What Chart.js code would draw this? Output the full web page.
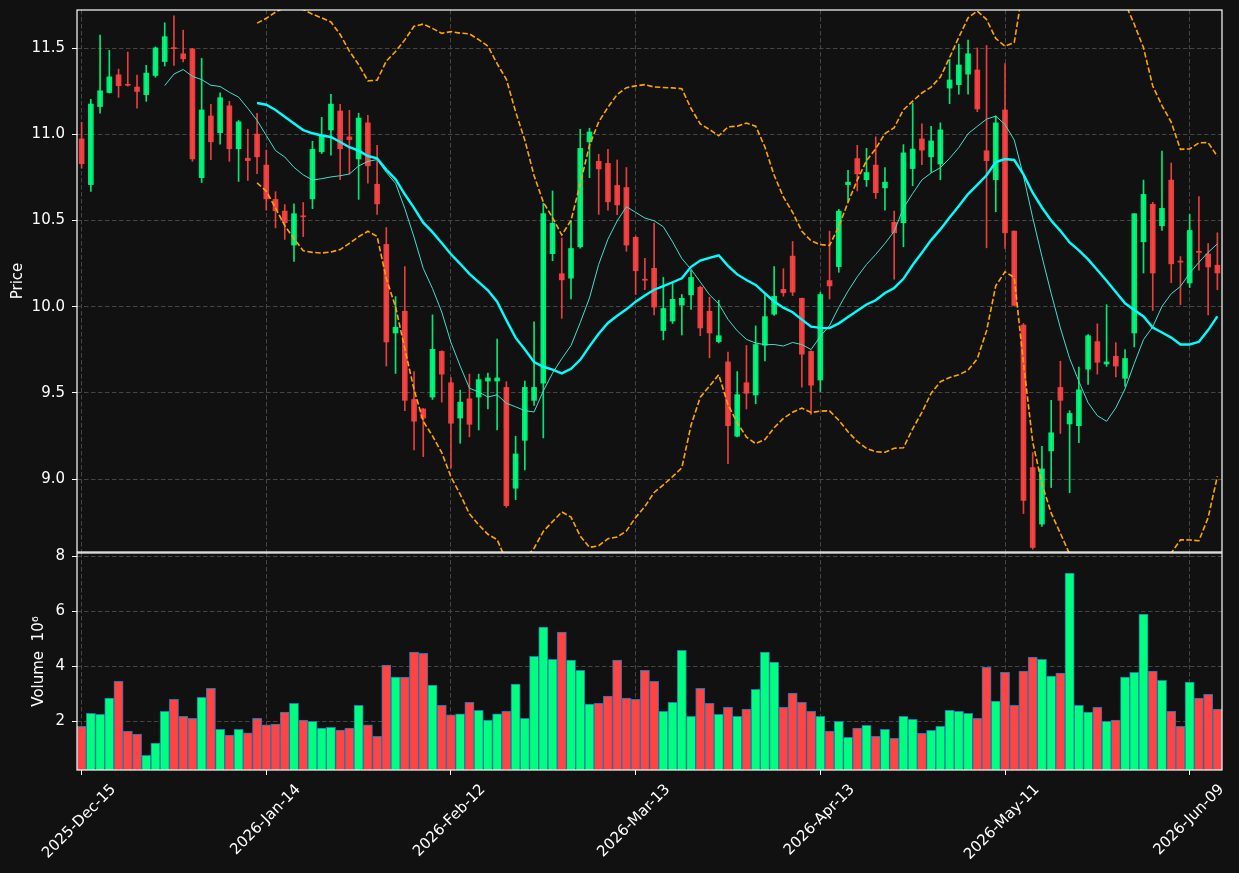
<!DOCTYPE html>
<html>
<head>
<meta charset="utf-8">
<script src="https://cdn.jsdelivr.net/npm/chart.js@4.4.1/dist/chart.umd.min.js"></script>
<style>
body { margin: 0; background: #111111; }
#wrap { position: relative; width: 1239px; height: 873px; }
#pwrap { position: absolute; left: 0; top: 0; width: 1239px; height: 553px; }
#vwrap { position: absolute; left: 0; top: 540px; width: 1239px; height: 333px; }
</style>
</head>
<body>
<div id="wrap">
  <div id="pwrap"><canvas id="price"></canvas></div>
  <div id="vwrap"><canvas id="vol"></canvas></div>
</div>
<script>
// tick labels (one every 20 trading days)
var tickLabels = ['2025-Dec-15', '2026-Jan-14', '2026-Feb-12', '2026-Mar-13', '2026-Apr-13', '2026-May-11', '2026-Jun-09'];
var priceTicks = [9.0, 9.5, 10.0, 10.5, 11.0, 11.5];
var volumeTicks = [2, 4, 6, 8];

// daily OHLC
var open = [10.974, 10.709, 11.162, 11.243, 11.346, 11.290, 11.275, 11.231, 11.342, 11.423,
  11.502, 11.468, 11.496, 10.749, 11.107, 11.010, 11.166, 10.917, 10.862, 11.002,
  10.822, 10.623, 10.555, 10.358, 10.526, 10.626, 10.899, 11.026, 11.136, 10.986,
  10.858, 11.067, 10.711, 10.362, 9.848, 9.974, 9.462, 9.407, 9.476, 9.741,
  9.559, 9.354, 9.466, 9.476, 9.569, 9.569, 9.532, 8.947, 9.225, 9.457,
  9.557, 10.308, 10.192, 10.166, 10.348, 10.957, 10.844, 10.832, 10.704, 10.692,
  10.403, 10.160, 10.223, 9.862, 9.917, 10.010, 10.069, 10.113, 9.974, 9.798,
  9.680, 9.249, 9.559, 9.488, 9.777, 9.957, 10.101, 10.294, 10.049, 9.741,
  9.575, 10.152, 10.233, 10.709, 10.860, 10.737, 10.822, 10.690, 10.490, 10.488,
  10.802, 10.974, 10.870, 10.828, 11.269, 11.289, 11.350, 11.374, 10.905, 10.737,
  11.142, 10.439, 9.893, 9.067, 8.739, 9.164, 9.532, 9.320, 9.310, 9.638,
  9.798, 9.668, 9.713, 9.585, 9.848, 10.377, 10.595, 10.470, 10.735, 10.265,
  10.138, 10.322, 10.306, 10.241];
var high = [11.071, 11.204, 11.577, 11.488, 11.379, 11.478, 11.344, 11.401, 11.508, 11.648,
  11.688, 11.605, 11.500, 11.441, 11.174, 11.241, 11.192, 11.081, 11.030, 11.123,
  10.909, 10.668, 10.593, 10.597, 10.605, 10.960, 11.099, 11.233, 11.174, 11.140,
  11.123, 11.111, 10.937, 10.460, 10.059, 10.233, 9.624, 9.410, 9.953, 9.745,
  9.589, 9.516, 9.609, 9.609, 9.615, 9.812, 9.565, 9.249, 9.569, 9.913,
  10.601, 10.672, 10.399, 10.500, 11.030, 11.036, 10.885, 10.913, 10.852, 10.808,
  10.410, 10.281, 10.486, 10.170, 10.136, 10.071, 10.213, 10.120, 10.055, 10.038,
  9.737, 9.624, 9.775, 9.889, 10.071, 10.233, 10.221, 10.379, 10.050, 9.745,
  10.083, 10.439, 10.565, 10.791, 10.937, 10.919, 10.986, 10.808, 10.555, 10.941,
  11.182, 11.061, 11.047, 11.067, 11.435, 11.524, 11.547, 11.502, 11.516, 11.107,
  11.411, 10.440, 9.903, 9.154, 9.190, 9.457, 9.684, 9.397, 9.650, 9.838,
  9.901, 10.012, 9.792, 9.751, 10.540, 10.735, 10.607, 10.903, 10.834, 10.291,
  10.536, 10.640, 10.366, 10.429];
var low = [10.804, 10.670, 11.123, 11.240, 11.215, 11.280, 11.152, 11.192, 11.332, 11.397,
  11.401, 11.421, 10.844, 10.721, 10.854, 10.943, 10.844, 10.727, 10.733, 10.773,
  10.561, 10.458, 10.391, 10.263, 10.407, 10.569, 10.889, 10.879, 10.737, 10.771,
  10.623, 10.717, 10.536, 9.656, 9.613, 9.397, 9.170, 9.130, 9.462, 9.447,
  9.063, 9.208, 9.245, 9.285, 9.407, 9.285, 8.836, 8.881, 9.053, 9.427,
  9.239, 10.267, 9.933, 10.045, 10.340, 10.749, 10.536, 10.561, 10.534, 10.322,
  10.071, 10.099, 9.953, 9.808, 9.903, 9.836, 9.984, 9.832, 9.704, 9.790,
  9.089, 9.245, 9.407, 9.437, 9.686, 9.950, 10.061, 10.065, 9.534, 9.376,
  9.508, 10.045, 10.200, 10.611, 10.672, 10.698, 10.628, 10.561, 10.160, 10.348,
  10.702, 10.824, 10.779, 10.737, 11.178, 11.233, 11.233, 11.132, 10.342, 10.551,
  10.338, 10.004, 8.800, 8.593, 8.725, 8.951, 9.265, 8.921, 9.211, 9.549,
  9.609, 9.654, 9.593, 9.538, 9.767, 10.196, 9.978, 10.443, 10.140, 10.012,
  10.111, 10.213, 9.953, 10.099];
var close = [10.830, 11.176, 11.253, 11.334, 11.283, 11.285, 11.249, 11.356, 11.502, 11.567,
  11.498, 11.439, 10.858, 11.142, 10.957, 11.213, 10.917, 11.073, 10.848, 10.870,
  10.626, 10.557, 10.488, 10.540, 10.522, 10.913, 10.994, 11.176, 10.917, 10.970,
  11.095, 10.818, 10.597, 9.796, 9.881, 9.457, 9.336, 9.354, 9.753, 9.609,
  9.324, 9.447, 9.318, 9.577, 9.587, 9.587, 8.846, 9.146, 9.532, 9.532,
  10.540, 10.484, 10.156, 10.338, 10.919, 11.014, 10.800, 10.609, 10.591, 10.358,
  10.209, 10.154, 9.998, 9.990, 10.043, 10.049, 10.170, 9.877, 9.848, 9.832,
  9.310, 9.490, 9.498, 9.781, 9.943, 10.061, 10.081, 10.085, 9.725, 9.545,
  10.071, 10.121, 10.555, 10.723, 10.771, 10.779, 10.662, 10.723, 10.429, 10.893,
  10.915, 10.909, 10.962, 11.026, 11.316, 11.403, 11.468, 11.148, 10.848, 11.067,
  10.429, 10.008, 8.877, 8.603, 9.059, 9.269, 9.457, 9.381, 9.518, 9.832,
  9.678, 9.680, 9.656, 9.700, 10.540, 10.652, 10.196, 10.571, 10.249, 10.259,
  10.443, 10.316, 10.231, 10.196];
// volume in millions
var volume = [1.82, 2.29, 2.25, 2.84, 3.45, 1.64, 1.53, 0.76, 1.21, 2.36,
  2.80, 2.18, 2.11, 2.87, 3.20, 1.71, 1.50, 1.71, 1.58, 2.11,
  1.87, 1.90, 2.33, 2.65, 2.04, 2.00, 1.75, 1.78, 1.68, 1.75,
  2.58, 1.87, 1.45, 4.04, 3.60, 3.60, 4.51, 4.47, 3.31, 2.58,
  2.23, 2.27, 2.69, 2.40, 2.04, 2.27, 2.36, 3.35, 2.11, 4.36,
  5.42, 4.25, 5.24, 4.22, 3.85, 2.62, 2.65, 2.91, 4.22, 2.84,
  2.80, 3.85, 3.45, 2.36, 2.69, 4.58, 2.18, 3.20, 2.65, 2.25,
  2.51, 2.18, 2.44, 3.16, 4.51, 4.15, 2.51, 3.02, 2.69, 2.36,
  2.18, 1.64, 2.00, 1.42, 1.75, 1.85, 1.45, 1.71, 1.38, 2.18,
  2.07, 1.56, 1.67, 1.82, 2.40, 2.36, 2.29, 2.11, 3.96, 2.73,
  3.78, 2.58, 3.82, 4.33, 4.25, 3.64, 3.75, 7.38, 2.58, 2.33,
  2.51, 2.00, 2.04, 3.60, 3.78, 5.89, 3.82, 3.49, 2.36, 1.82,
  3.42, 2.84, 2.98, 2.44];

function sma(src, n) {
  var out = [];
  for (var i = 0; i < src.length; i++) {
    if (i < n - 1) { out.push(null); continue; }
    var s = 0;
    for (var j = i - n + 1; j <= i; j++) s += src[j];
    out.push(s / n);
  }
  return out;
}
function band(src, n, k) {
  var mid = sma(src, n);
  return mid.map(function(m, i) {
    if (m === null) return null;
    var v = 0;
    for (var j = i - n + 1; j <= i; j++) v += (src[j] - m) * (src[j] - m);
    return m + k * Math.sqrt(v / n);
  });
}

var ma10 = sma(close, 10);
var ma20 = sma(close, 20);
var upperBand = band(close, 20, 2);
var lowerBand = band(close, 20, -2);

var idx = close.map(function(c, i) { return i; });
var isUp = close.map(function(c, i) { return c >= open[i]; });
var candleCol = isUp.map(function(u) { return u ? 'rgba(0,255,127,0.9)' : 'rgba(255,68,68,0.9)'; });
var volCol = isUp.map(function(u) { return u ? '#00ff7f' : '#ff4444'; });

var gridColor = '#454545';
var gridDash = [4.5, 2.5];

Chart.defaults.font.family = "'DejaVu Sans', sans-serif";
Chart.defaults.font.size = 15;
Chart.defaults.color = '#ffffff';

var framePlugin = {
  id: 'frame',
  afterDraw: function(chart) {
    var a = chart.chartArea, ctx = chart.ctx;
    ctx.save();
    ctx.strokeStyle = '#ffffff';
    ctx.lineWidth = 1.2;
    ctx.strokeRect(a.left, a.top, a.right - a.left, a.bottom - a.top);
    ctx.restore();
  }
};

function xTicks(s) {
  s.ticks = tickLabels.map(function(t, k) { return { value: k * 20 }; });
}
function noPad(s) {
  s.paddingTop = 0; s.paddingBottom = 0; s.paddingLeft = 0; s.paddingRight = 0;
}

new Chart(document.getElementById('price'), {
  type: 'bar',
  data: {
    labels: idx,
    datasets: [
      { type: 'line', data: ma20, borderColor: '#00ffff', borderWidth: 2.4, pointRadius: 0, tension: 0, order: 0 },
      { type: 'line', data: ma10, borderColor: '#40e0d0', borderWidth: 1, pointRadius: 0, tension: 0, order: 0 },
      { type: 'line', data: upperBand, borderColor: '#ffa500', borderWidth: 1.6, borderDash: [5.5, 2.4], pointRadius: 0, tension: 0, order: 0 },
      { type: 'line', data: lowerBand, borderColor: '#ffa500', borderWidth: 1.6, borderDash: [5.5, 2.4], pointRadius: 0, tension: 0, order: 0 },
      { data: open.map(function(o, i) { return [o, close[i]]; }), backgroundColor: candleCol,
        barThickness: 5, minBarLength: 1, grouped: false, order: 1 },
      { data: low.map(function(l, i) { return [l, high[i]]; }), backgroundColor: candleCol,
        barThickness: 1, grouped: false, order: 2 }
    ]
  },
  options: {
    responsive: true,
    maintainAspectRatio: false,
    devicePixelRatio: 1,
    animation: false,
    events: [],
    layout: { padding: { top: 10, right: 17, left: 9, bottom: 1 } },
    plugins: { legend: { display: false }, tooltip: { enabled: false } },
    scales: {
      x: {
        type: 'linear', min: -0.5, max: 123.5, offset: false,
        afterBuildTicks: xTicks,
        ticks: { display: false },
        grid: { color: gridColor, drawTicks: false, offset: false },
        border: { display: false, dash: gridDash },
        afterFit: function(s) { s.height = 0; noPad(s); }
      },
      y: {
        min: 8.577, max: 11.722,
        afterBuildTicks: function(s) { s.ticks = priceTicks.map(function(v) { return { value: v }; }); },
        ticks: { padding: 7, callback: function(v) { return v.toFixed(1); } },
        grid: { color: gridColor, tickColor: '#ffffff', tickLength: 5, tickBorderDash: [] },
        border: { display: false, dash: gridDash },
        title: { display: true, text: 'Price', padding: { top: 0, bottom: 0 } },
        afterFit: function(s) { s.width = 68; noPad(s); }
      }
    }
  },
  plugins: [framePlugin]
});

new Chart(document.getElementById('vol'), {
  type: 'bar',
  data: {
    labels: idx,
    datasets: [
      { data: volume, backgroundColor: volCol, borderColor: '#1f77b4', borderWidth: 1,
        barPercentage: 1, categoryPercentage: 1 }
    ]
  },
  options: {
    responsive: true,
    maintainAspectRatio: false,
    devicePixelRatio: 1,
    animation: false,
    events: [],
    layout: { padding: { top: 13, right: 17, left: 30, bottom: 0 } },
    plugins: { legend: { display: false }, tooltip: { enabled: false } },
    scales: {
      x: {
        type: 'linear', min: -0.5, max: 123.5, offset: false,
        afterBuildTicks: xTicks,
        ticks: { minRotation: 45, maxRotation: 45, autoSkip: false, padding: 6, labelOffset: 32,
          callback: function(v) { return tickLabels[Math.round(v / 20)]; } },
        grid: { color: gridColor, tickColor: '#ffffff', tickLength: 5, tickBorderDash: [], offset: false },
        border: { display: false, dash: gridDash },
        afterFit: function(s) { s.height = 103; noPad(s); }
      },
      y: {
        min: 0.23, max: 8.11,
        afterBuildTicks: function(s) { s.ticks = volumeTicks.map(function(v) { return { value: v }; }); },
        ticks: { padding: 7 },
        grid: { color: gridColor, tickColor: '#ffffff', tickLength: 5, tickBorderDash: [] },
        border: { display: false, dash: gridDash },
        title: { display: true, text: 'Volume  10\u2076', padding: { top: 0, bottom: 0 } },
        afterFit: function(s) { s.width = 47; noPad(s); }
      }
    }
  },
  plugins: [framePlugin]
});
</script>
</body>
</html>
